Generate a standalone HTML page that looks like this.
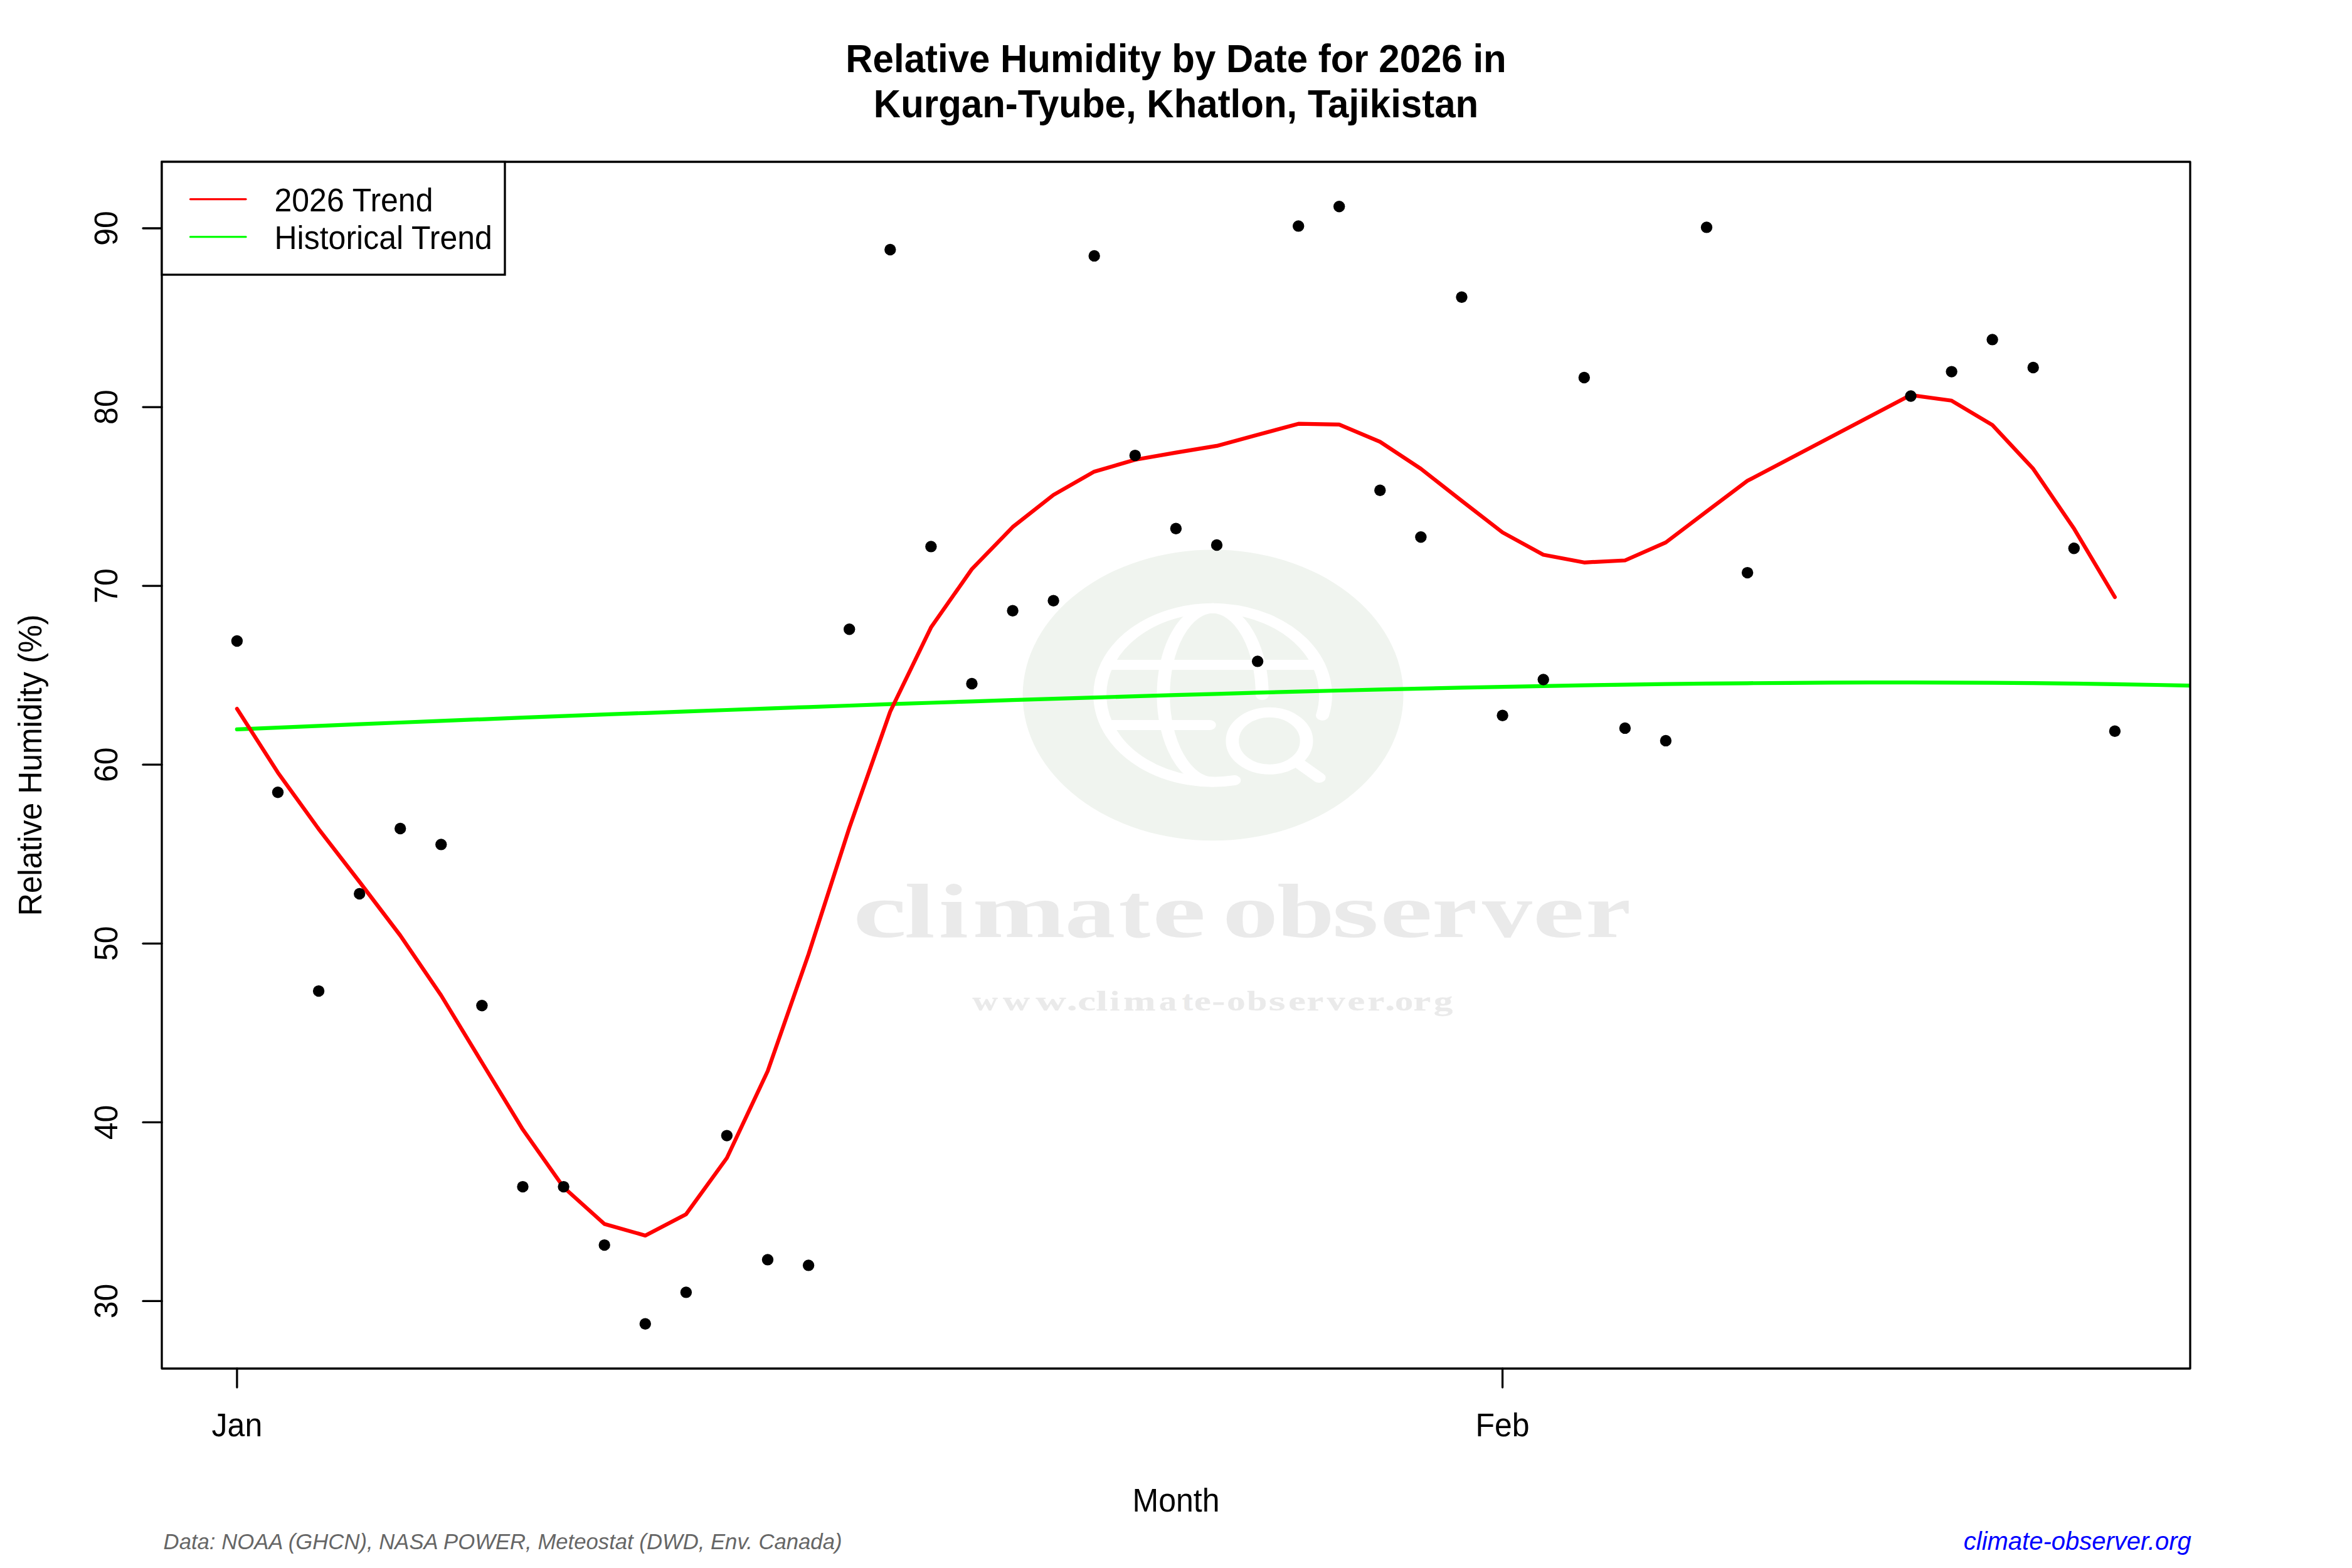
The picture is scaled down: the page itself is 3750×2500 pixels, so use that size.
<!DOCTYPE html><html><head><meta charset="utf-8"><title>Relative Humidity by Date for 2026 in Kurgan-Tyube, Khatlon, Tajikistan</title>
<style>html,body{margin:0;padding:0;background:#fff;overflow:hidden}svg{display:block}text{font-family:"Liberation Sans",sans-serif}</style></head><body>
<svg width="3750" height="2500" viewBox="0 0 3750 2500">
<rect width="3750" height="2500" fill="#fff"/>
<g id="wm">
<ellipse cx="1934.05" cy="1108.4" rx="303.45" ry="231.9" fill="#f0f4ef"/>
<g transform="translate(1933.6,1108.2) scale(1.3,1)" fill="none" stroke="#fff" stroke-width="16" stroke-linecap="round"><path d="M134.52,32.54 A138.4,138.4 0 1 0 26.41,135.86"/><path d="M0,-138.4 A60.6,138.4 0 0 0 0,138.4"/><path d="M0,-138.4 A60.6,138.4 0 0 1 60.6,0"/><path d="M-129.70,-48.3 L129.70,-48.3"/><path d="M-129.88,47.8 L-4,47.8"/><circle cx="69.5" cy="73.05" r="45.5"/><path d="M101.7,105.2 L130.5,131.8"/></g>
<g style="font-family:'Liberation Serif';font-weight:bold" font-size="100" fill="#eaeaea" stroke="#eaeaea" stroke-width="0.00" stroke-linejoin="round" vector-effect="non-scaling-stroke"><text style="font-family:'Liberation Serif';font-weight:bold" transform="translate(1360.03,1494.20) scale(1.92325,1.23092)">c</text><text style="font-family:'Liberation Serif';font-weight:bold" transform="translate(1442.29,1494.20) scale(1.74536,1.23092)">l</text><text style="font-family:'Liberation Serif';font-weight:bold" transform="translate(1496.78,1494.20) scale(1.69147,1.23092)">i</text><text style="font-family:'Liberation Serif';font-weight:bold" transform="translate(1550.62,1494.20) scale(1.77806,1.23092)">m</text><text style="font-family:'Liberation Serif';font-weight:bold" transform="translate(1698.12,1494.20) scale(1.60614,1.23092)">a</text><text style="font-family:'Liberation Serif';font-weight:bold" transform="translate(1783.77,1494.20) scale(1.51040,1.23092)">t</text><text style="font-family:'Liberation Serif';font-weight:bold" transform="translate(1837.01,1494.20) scale(1.92814,1.23092)">e</text><text style="font-family:'Liberation Serif';font-weight:bold" transform="translate(1948.92,1494.20) scale(1.78138,1.23092)">o</text><text style="font-family:'Liberation Serif';font-weight:bold" transform="translate(2036.21,1494.20) scale(1.64238,1.23092)">b</text><text style="font-family:'Liberation Serif';font-weight:bold" transform="translate(2123.70,1494.20) scale(1.91645,1.23092)">s</text><text style="font-family:'Liberation Serif';font-weight:bold" transform="translate(2199.93,1494.20) scale(1.89166,1.23092)">e</text><text style="font-family:'Liberation Serif';font-weight:bold" transform="translate(2283.25,1494.20) scale(1.62070,1.23092)">r</text><text style="font-family:'Liberation Serif';font-weight:bold" transform="translate(2363.00,1494.20) scale(1.59600,1.23092)">v</text><text style="font-family:'Liberation Serif';font-weight:bold" transform="translate(2443.66,1494.20) scale(1.85519,1.23092)">e</text><text style="font-family:'Liberation Serif';font-weight:bold" transform="translate(2528.25,1494.20) scale(1.62070,1.23092)">r</text></g>
<g style="font-family:'Liberation Serif';font-weight:bold" font-size="100" fill="#eaeaea" stroke="#eaeaea" stroke-width="0.80" stroke-linejoin="round" vector-effect="non-scaling-stroke"><text style="font-family:'Liberation Serif';font-weight:bold" transform="translate(1550.44,1611.30) scale(0.56033,0.43507)">w</text><text style="font-family:'Liberation Serif';font-weight:bold" transform="translate(1598.93,1611.30) scale(0.59535,0.43507)">w</text><text style="font-family:'Liberation Serif';font-weight:bold" transform="translate(1651.60,1611.30) scale(0.66819,0.43507)">w</text><text style="font-family:'Liberation Serif';font-weight:bold" transform="translate(1700.69,1611.30) scale(0.68472,0.43507)">.</text><text style="font-family:'Liberation Serif';font-weight:bold" transform="translate(1718.51,1611.30) scale(0.64195,0.43507)">c</text><text style="font-family:'Liberation Serif';font-weight:bold" transform="translate(1747.39,1611.30) scale(0.67161,0.43507)">l</text><text style="font-family:'Liberation Serif';font-weight:bold" transform="translate(1769.55,1611.30) scale(0.56797,0.43507)">i</text><text style="font-family:'Liberation Serif';font-weight:bold" transform="translate(1791.35,1611.30) scale(0.61465,0.43507)">m</text><text style="font-family:'Liberation Serif';font-weight:bold" transform="translate(1848.08,1611.30) scale(0.56557,0.43507)">a</text><text style="font-family:'Liberation Serif';font-weight:bold" transform="translate(1884.76,1611.30) scale(0.51840,0.43507)">t</text><text style="font-family:'Liberation Serif';font-weight:bold" transform="translate(1903.94,1611.30) scale(0.60189,0.43507)">e</text><text style="font-family:'Liberation Serif';font-weight:bold" transform="translate(1932.42,1611.30) scale(0.62364,0.43507)">-</text><text style="font-family:'Liberation Serif';font-weight:bold" transform="translate(1956.17,1611.30) scale(0.58514,0.43507)">o</text><text style="font-family:'Liberation Serif';font-weight:bold" transform="translate(1988.37,1611.30) scale(0.57463,0.43507)">b</text><text style="font-family:'Liberation Serif';font-weight:bold" transform="translate(2022.72,1611.30) scale(0.68765,0.43507)">s</text><text style="font-family:'Liberation Serif';font-weight:bold" transform="translate(2054.18,1611.30) scale(0.62013,0.43507)">e</text><text style="font-family:'Liberation Serif';font-weight:bold" transform="translate(2083.58,1611.30) scale(0.60176,0.43507)">r</text><text style="font-family:'Liberation Serif';font-weight:bold" transform="translate(2115.80,1611.30) scale(0.57800,0.43507)">v</text><text style="font-family:'Liberation Serif';font-weight:bold" transform="translate(2148.47,1611.30) scale(0.62274,0.43507)">e</text><text style="font-family:'Liberation Serif';font-weight:bold" transform="translate(2180.48,1611.30) scale(0.60429,0.43507)">r</text><text style="font-family:'Liberation Serif';font-weight:bold" transform="translate(2208.21,1611.30) scale(0.63537,0.43507)">.</text><text style="font-family:'Liberation Serif';font-weight:bold" transform="translate(2224.08,1611.30) scale(0.58278,0.43507)">o</text><text style="font-family:'Liberation Serif';font-weight:bold" transform="translate(2253.52,1611.30) scale(0.62451,0.43507)">r</text><text style="font-family:'Liberation Serif';font-weight:bold" transform="translate(2285.90,1611.30) scale(0.60578,0.43507)">g</text></g>
</g>
<defs><clipPath id="pc"><rect x="258" y="258" width="3234" height="1924"/></clipPath></defs>
<g clip-path="url(#pc)">
<path d="M377.8,1162.9 L442.9,1160.1 L508.0,1157.4 L573.1,1154.7 L638.1,1152.0 L703.2,1149.4 L768.3,1146.8 L833.4,1144.2 L898.5,1141.7 L963.6,1139.2 L1028.7,1136.8 L1093.8,1134.4 L1158.8,1132.0 L1223.9,1129.6 L1289.0,1127.3 L1354.1,1125.0 L1419.2,1122.7 L1484.3,1120.5 L1549.4,1118.3 L1614.5,1116.2 L1679.5,1114.1 L1744.6,1112.1 L1809.7,1110.1 L1874.8,1108.1 L1939.9,1106.3 L2005.0,1104.4 L2070.1,1102.7 L2135.1,1101.0 L2200.2,1099.4 L2265.3,1097.9 L2330.4,1096.4 L2395.5,1095.1 L2460.6,1093.8 L2525.7,1092.7 L2590.8,1091.6 L2655.8,1090.7 L2720.9,1089.9 L2786.0,1089.3 L2851.1,1088.8 L2916.2,1088.4 L2981.3,1088.2 L3046.4,1088.2 L3111.5,1088.3 L3176.5,1088.6 L3241.6,1089.2 L3306.7,1089.9 L3371.8,1090.8 L3436.9,1092.0 L3510.0,1093.6" fill="none" stroke="#00ff00" stroke-width="6.2" stroke-linecap="round" stroke-linejoin="round"/>
<path d="M377.9,1130.1 L443.0,1231.7 L508.1,1321.8 L573.2,1406.0 L638.2,1491.5 L703.3,1587.0 L768.4,1694.0 L833.5,1800.8 L898.6,1893.0 L963.7,1951.5 L1028.8,1969.9 L1093.9,1935.9 L1158.9,1846.3 L1224.0,1707.8 L1289.1,1521.5 L1354.2,1319.7 L1419.3,1134.6 L1484.4,1000.3 L1549.5,907.4 L1614.6,840.3 L1679.6,789.1 L1744.7,751.9 L1809.8,733.0 L1874.9,721.6 L1940.0,710.9 L2005.1,693.3 L2070.2,675.7 L2135.2,676.9 L2200.3,704.4 L2265.4,747.4 L2330.5,798.5 L2395.6,848.9 L2460.7,884.5 L2525.8,896.8 L2590.9,893.5 L2655.9,864.9 L2721.0,815.5 L2786.1,766.6 L3046.5,629.8 L3111.6,638.8 L3176.6,677.7 L3241.7,747.4 L3306.8,842.8 L3371.9,952.0" fill="none" stroke="#ff0000" stroke-width="6.2" stroke-linecap="round" stroke-linejoin="round"/>
<circle cx="377.9" cy="1022.0" r="9.2" fill="#000"/>
<circle cx="443.0" cy="1263.2" r="9.2" fill="#000"/>
<circle cx="508.1" cy="1580.1" r="9.2" fill="#000"/>
<circle cx="573.2" cy="1425.0" r="9.2" fill="#000"/>
<circle cx="638.2" cy="1321.0" r="9.2" fill="#000"/>
<circle cx="703.3" cy="1346.4" r="9.2" fill="#000"/>
<circle cx="768.4" cy="1603.2" r="9.2" fill="#000"/>
<circle cx="833.5" cy="1892.1" r="9.2" fill="#000"/>
<circle cx="898.6" cy="1892.1" r="9.2" fill="#000"/>
<circle cx="963.7" cy="1985.1" r="9.2" fill="#000"/>
<circle cx="1028.8" cy="2110.8" r="9.2" fill="#000"/>
<circle cx="1093.9" cy="2060.4" r="9.2" fill="#000"/>
<circle cx="1158.9" cy="1810.6" r="9.2" fill="#000"/>
<circle cx="1224.0" cy="2008.4" r="9.2" fill="#000"/>
<circle cx="1289.1" cy="2017.4" r="9.2" fill="#000"/>
<circle cx="1354.2" cy="1003.2" r="9.2" fill="#000"/>
<circle cx="1419.3" cy="398.0" r="9.2" fill="#000"/>
<circle cx="1484.4" cy="871.4" r="9.2" fill="#000"/>
<circle cx="1549.5" cy="1090.0" r="9.2" fill="#000"/>
<circle cx="1614.6" cy="973.7" r="9.2" fill="#000"/>
<circle cx="1679.6" cy="957.7" r="9.2" fill="#000"/>
<circle cx="1744.7" cy="407.9" r="9.2" fill="#000"/>
<circle cx="1809.8" cy="726.1" r="9.2" fill="#000"/>
<circle cx="1874.9" cy="842.8" r="9.2" fill="#000"/>
<circle cx="1940.0" cy="869.0" r="9.2" fill="#000"/>
<circle cx="2005.1" cy="1054.4" r="9.2" fill="#000"/>
<circle cx="2070.2" cy="360.4" r="9.2" fill="#000"/>
<circle cx="2135.2" cy="329.3" r="9.2" fill="#000"/>
<circle cx="2200.3" cy="781.8" r="9.2" fill="#000"/>
<circle cx="2265.4" cy="856.3" r="9.2" fill="#000"/>
<circle cx="2330.5" cy="473.8" r="9.2" fill="#000"/>
<circle cx="2395.6" cy="1140.8" r="9.2" fill="#000"/>
<circle cx="2460.7" cy="1083.5" r="9.2" fill="#000"/>
<circle cx="2525.8" cy="602.0" r="9.2" fill="#000"/>
<circle cx="2590.9" cy="1160.9" r="9.2" fill="#000"/>
<circle cx="2655.9" cy="1180.9" r="9.2" fill="#000"/>
<circle cx="2721.0" cy="362.4" r="9.2" fill="#000"/>
<circle cx="2786.1" cy="913.1" r="9.2" fill="#000"/>
<circle cx="3046.5" cy="631.5" r="9.2" fill="#000"/>
<circle cx="3111.6" cy="592.6" r="9.2" fill="#000"/>
<circle cx="3176.6" cy="541.4" r="9.2" fill="#000"/>
<circle cx="3241.7" cy="586.0" r="9.2" fill="#000"/>
<circle cx="3306.8" cy="874.3" r="9.2" fill="#000"/>
<circle cx="3371.9" cy="1165.8" r="9.2" fill="#000"/>
</g>
<rect x="258" y="258" width="3234" height="1924" fill="none" stroke="#000" stroke-width="3.3" stroke-linejoin="round"/>
<line x1="228" y1="2074.4" x2="258" y2="2074.4" stroke="#000" stroke-width="3.3" stroke-linecap="round"/>
<text transform="translate(187.0,2074.4) rotate(-90) scale(1,1.035)" text-anchor="middle" font-size="50">30</text>
<line x1="228" y1="1789.4" x2="258" y2="1789.4" stroke="#000" stroke-width="3.3" stroke-linecap="round"/>
<text transform="translate(187.0,1789.4) rotate(-90) scale(1,1.035)" text-anchor="middle" font-size="50">40</text>
<line x1="228" y1="1504.3" x2="258" y2="1504.3" stroke="#000" stroke-width="3.3" stroke-linecap="round"/>
<text transform="translate(187.0,1504.3) rotate(-90) scale(1,1.035)" text-anchor="middle" font-size="50">50</text>
<line x1="228" y1="1219.2" x2="258" y2="1219.2" stroke="#000" stroke-width="3.3" stroke-linecap="round"/>
<text transform="translate(187.0,1219.2) rotate(-90) scale(1,1.035)" text-anchor="middle" font-size="50">60</text>
<line x1="228" y1="934.1" x2="258" y2="934.1" stroke="#000" stroke-width="3.3" stroke-linecap="round"/>
<text transform="translate(187.0,934.1) rotate(-90) scale(1,1.035)" text-anchor="middle" font-size="50">70</text>
<line x1="228" y1="649.1" x2="258" y2="649.1" stroke="#000" stroke-width="3.3" stroke-linecap="round"/>
<text transform="translate(187.0,649.1) rotate(-90) scale(1,1.035)" text-anchor="middle" font-size="50">80</text>
<line x1="228" y1="364.0" x2="258" y2="364.0" stroke="#000" stroke-width="3.3" stroke-linecap="round"/>
<text transform="translate(187.0,364.0) rotate(-90) scale(1,1.035)" text-anchor="middle" font-size="50">90</text>
<line x1="377.9" y1="2182" x2="377.9" y2="2212" stroke="#000" stroke-width="3.3" stroke-linecap="round"/>
<text transform="translate(377.9,2290.0) scale(1,1.035)" text-anchor="middle" font-size="50">Jan</text>
<line x1="2395.6" y1="2182" x2="2395.6" y2="2212" stroke="#000" stroke-width="3.3" stroke-linecap="round"/>
<text transform="translate(2395.6,2290.0) scale(1,1.035)" text-anchor="middle" font-size="50">Feb</text>
<text transform="translate(1875.0,2410.0) scale(1,1.035)" text-anchor="middle" font-size="50">Month</text>
<text transform="translate(66.3,1220.0) rotate(-90) scale(1,1.035)" text-anchor="middle" font-size="50">Relative Humidity (%)</text>
<text transform="translate(1875.0,115.0) scale(1,1.060)" text-anchor="middle" font-size="60" font-weight="bold">Relative Humidity by Date for 2026 in</text>
<text transform="translate(1875.0,187.1) scale(1,1.060)" text-anchor="middle" font-size="60" font-weight="bold">Kurgan-Tyube, Khatlon, Tajikistan</text>
<rect x="258" y="258" width="547" height="180" fill="#fff" stroke="#000" stroke-width="3.3"/>
<line x1="303.5" y1="317.6" x2="392" y2="317.6" stroke="#ff0000" stroke-width="3.3" stroke-linecap="round"/>
<line x1="303.5" y1="377.7" x2="392" y2="377.7" stroke="#00ff00" stroke-width="3.3" stroke-linecap="round"/>
<text transform="translate(437.5,337.0) scale(1,1.035)" font-size="50">2026 Trend</text>
<text transform="translate(437.5,397.1) scale(1,1.035)" font-size="50">Historical Trend</text>
<text transform="translate(260.6,2470.0) scale(1,1.035)" font-size="34.7" font-style="italic" fill="#666666">Data: NOAA (GHCN), NASA POWER, Meteostat (DWD, Env. Canada)</text>
<text transform="translate(3493.7,2470.5) scale(1,1.035)" text-anchor="end" font-size="40" font-style="italic" fill="#0000ff">climate-observer.org</text>
</svg></body></html>
